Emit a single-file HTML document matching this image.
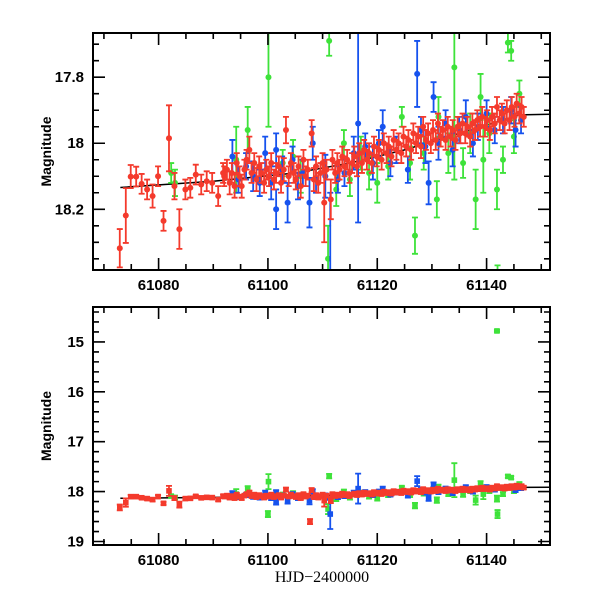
<!DOCTYPE html>
<html><head><meta charset="utf-8"><style>
html,body{margin:0;padding:0;background:#fff;}
svg{display:block;}
.tl{font-family:"Liberation Sans",sans-serif;font-weight:bold;font-size:15px;fill:#000;}
.ax{font-family:"Liberation Sans",sans-serif;font-weight:bold;font-size:14px;fill:#000;}
.xl{font-family:"Liberation Serif",serif;font-size:16px;fill:#000;}
</style></head><body>
<svg id="chart" width="600" height="600" viewBox="0 0 600 600">
<defs>
<clipPath id="clipTop"><rect x="93" y="33" width="457" height="237"/></clipPath>
<clipPath id="clipBot"><rect x="93" y="307" width="457" height="238"/></clipPath>
</defs>
</svg>
<script>
// ---- data ----
const redT=[61072.9,61074.0,61074.9,61075.9,61076.9,61077.9,61078.9,61079.9,61080.9,61081.9,61082.9,61083.8,61084.9,61085.8,61086.8,61087.8,61088.8,61089.8,61090.9,61091.8,
61092.0,61092.5,61093.0,61093.4,61093.9,61094.3,61094.8,61095.2,61095.7,61096.1,61096.6,61097.0,61097.5,61097.9,61098.4,61098.8,61099.3,61099.7,61100.2,61100.6,61101.1,61101.5,61102.0,61102.4,61102.9,61103.3,61103.8,61104.2,61104.7,61105.1,61105.6,61106.0,61106.5,61106.9,61107.3,61107.7,61108.0,61108.4,61108.8,61109.2,61109.6,61110.0,61110.3,61110.7,61111.5,61111.8,61112.3,61112.7,61113.1,61113.6,61114.0,61114.5,61114.9,61115.4,61115.8,61116.3,61116.7,61117.2,61117.6,61118.1,61118.5,61119.0,61119.4,61119.9,61120.3,61120.8,61121.2,61121.7,61122.1,61122.6,61123.0,61123.5,61123.9,61124.4,61124.8,61125.3,61125.7,61126.2,61126.6,61127.1,61127.5,61128.0,61128.4,61128.9,61129.3,61129.8,61130.2,61130.7,61131.1,61131.6,61132.0,61132.5,61132.9,61133.4,61133.8,61134.3,61134.7,61135.2,61135.6,61136.1,61136.5,61137.0,61137.4,61137.9,61138.3,61138.8,61139.2,61139.7,61140.1,61140.6,61141.0,61141.5,61141.9,61142.4,61142.8,61143.3,61143.7,61144.2,61144.6,61145.1,61145.5,61146.0,61146.4,61146.8];
const redM=[18.318,18.219,18.101,18.101,18.123,18.14,18.16,18.10,18.235,17.985,18.13,18.26,18.14,18.135,18.095,18.125,18.115,18.12,18.16,18.09,
18.10,18.08,18.12,18.09,18.13,18.06,18.10,18.13,18.08,18.05,18.02,18.09,18.06,18.11,18.07,18.09,18.12,18.08,18.10,18.06,18.11,18.09,18.07,18.12,18.08,17.96,18.10,18.06,18.09,18.11,18.07,18.13,18.05,18.10,18.08,18.60,17.97,18.11,18.07,18.12,18.09,18.06,18.18,18.08,18.17,18.05,18.09,18.06,18.08,18.04,18.07,18.05,18.09,18.06,18.04,18.07,18.03,18.06,18.02,18.05,18.03,18.06,18.01,18.04,18.02,18.05,18.00,18.03,18.01,18.04,17.99,18.02,18.00,18.03,17.98,18.01,17.99,18.02,17.97,18.00,17.98,18.01,17.95,17.99,17.97,18.00,17.96,17.99,17.94,17.98,17.96,17.99,17.95,17.98,17.96,17.99,17.95,17.97,17.94,17.97,17.95,17.98,17.94,17.96,17.93,17.95,17.92,17.95,17.93,17.96,17.92,17.94,17.89,17.93,17.91,17.94,17.90,17.93,17.89,17.92,17.88,17.91,17.89,17.92];
const redE=[0.058,0.083,0.035,0.03,0.03,0.03,0.035,0.03,0.03,0.1,0.04,0.06,0.03,0.03,0.03,0.03,0.03,0.03,0.03,0.03,
0.03,0.03,0.035,0.03,0.035,0.03,0.03,0.035,0.03,0.03,0.04,0.03,0.03,0.035,0.03,0.03,0.03,0.03,0.03,0.03,0.03,0.03,0.03,0.03,0.035,0.04,0.03,0.03,0.03,0.03,0.03,0.035,0.03,0.03,0.03,0.05,0.04,0.035,0.03,0.03,0.03,0.03,0.12,0.03,0.06,0.03,0.03,0.03,0.03,0.03,0.03,0.03,0.03,0.03,0.03,0.03,0.03,0.03,0.03,0.03,0.03,0.03,0.03,0.03,0.03,0.03,0.03,0.03,0.03,0.03,0.03,0.03,0.03,0.03,0.03,0.03,0.03,0.03,0.03,0.03,0.03,0.035,0.03,0.03,0.03,0.03,0.03,0.03,0.03,0.03,0.03,0.03,0.03,0.03,0.03,0.03,0.03,0.03,0.03,0.03,0.03,0.03,0.03,0.03,0.03,0.03,0.03,0.03,0.03,0.03,0.03,0.03,0.03,0.03,0.03,0.03,0.03,0.03,0.03,0.03,0.03,0.03,0.03,0.03];
const blueT=[61093.5,61094.6,61096.0,61097.3,61098.5,61099.5,61100.6,61101.5,61101.5,61102.6,61103.6,61104.5,61105.5,61106.4,61107.6,61108.2,61108.8,61110.5,61111.4,61112.8,61114.0,61115.7,61116.5,61117.8,61119.2,61120.3,61121.0,61122.4,61123.5,61125.6,61127.3,61128.0,61128.8,61129.4,61130.3,61131.2,61132.5,61133.8,61135.0,61136.2,61137.5,61138.4,61140.0,61141.5,61143.0,61144.5,61145.3,61146.3];
const blueM=[18.04,18.11,18.07,18.10,18.12,18.03,18.12,18.02,18.20,18.08,18.18,18.05,18.13,18.09,18.18,18.00,18.11,18.10,18.45,18.11,18.09,18.03,17.94,18.01,18.06,18.00,17.95,18.06,18.02,18.08,17.79,17.96,18.01,18.12,17.86,18.00,17.94,18.02,17.96,17.92,18.00,17.95,17.91,17.96,17.93,17.90,17.96,17.93];
const blueE=[0.05,0.04,0.04,0.045,0.04,0.05,0.05,0.05,0.06,0.04,0.06,0.04,0.04,0.04,0.075,0.05,0.04,0.065,0.3,0.04,0.04,0.05,0.3,0.04,0.05,0.04,0.05,0.04,0.04,0.04,0.1,0.04,0.05,0.065,0.045,0.05,0.04,0.05,0.04,0.05,0.04,0.04,0.04,0.04,0.04,0.04,0.05,0.04];
const greenT=[61082.3,61083.0,61094.2,61096.3,61100.1,61100.0,61102.7,61104.6,61106.0,61111.2,61111.0,61112.5,61113.9,61115.0,61117.0,61118.5,61120.0,61122.0,61124.5,61126.9,61126.0,61128.5,61130.9,61131.2,61133.0,61134.1,61135.7,61137.0,61138.0,61138.9,61139.4,61140.5,61141.9,61141.9,61142.0,61143.0,61143.9,61144.5,61145.0,61146.0];
const greenM=[18.09,18.12,18.05,17.96,17.80,18.45,18.06,18.04,18.10,17.69,18.35,18.14,18.00,18.11,18.03,18.09,18.12,18.07,17.92,18.28,18.06,18.03,18.17,17.92,18.03,17.77,18.06,17.97,18.17,17.86,18.05,17.97,18.14,14.78,18.45,18.05,17.695,17.72,17.98,17.85];
const greenE=[0.03,0.04,0.1,0.07,0.15,0.06,0.04,0.05,0.05,0.045,0.1,0.05,0.04,0.05,0.05,0.05,0.06,0.04,0.03,0.055,0.05,0.05,0.055,0.06,0.06,0.34,0.045,0.06,0.09,0.07,0.1,0.06,0.06,0.02,0.08,0.04,0.03,0.03,0.05,0.04];
const fitT=[61073,61090,61105,61115,61125,61135,61142,61146,61152];
const fitM=[18.134,18.115,18.09,18.06,18.02,17.97,17.935,17.914,17.912];
const xTicks=[61080,61100,61120,61140];
const topYTicks=[17.8,18,18.2];
const botYTicks=[15,16,17,18,19];

// ---- axes ----
const NS="http://www.w3.org/2000/svg";
const svg=document.getElementById('chart');
const X0=93,X1=550;
const xDom=[61068.0,61151.6];
const xs=t=>X0+(t-xDom[0])/(xDom[1]-xDom[0])*(X1-X0);
const panels=[
 {name:'top',y0:33,y1:270,dom:[17.666,18.384],ticks:topYTicks,minor:0.05,clip:'clipTop',r:3,sq:false},
 {name:'bottom',y0:307,y1:545,dom:[14.3,19.07],ticks:botYTicks,minor:0.2,clip:'clipBot',r:2.8,sq:true}
];
function el(tag,attrs,parent){const e=document.createElementNS(NS,tag);for(const k in attrs)e.setAttribute(k,attrs[k]);(parent||svg).appendChild(e);return e;}
const colors={red:'#f43a2c',blue:'#1652ee',green:'#3ee23a'};

panels.forEach(p=>{
 const ys=m=>p.y0+(m-p.dom[0])/(p.dom[1]-p.dom[0])*(p.y1-p.y0);
 const g=el('g',{});
 
 
 const dg=el('g',{'clip-path':'url(#'+p.clip+')'},g);
 const fl=el('polyline',{points:fitT.map((t,i)=>xs(t)+','+ys(fitM[i])).join(' '),fill:'none',stroke:'#000','stroke-width':1.5},dg);
 
 
 const series=[['green',greenT,greenM,greenE],['blue',blueT,blueM,blueE],['red',redT,redM,redE]];
 series.forEach(([c,T,M,E])=>{
  const sg=el('g',{fill:colors[c],stroke:colors[c]},dg);
  
  
  T.forEach((t,i)=>{
   const x=xs(t),y=ys(M[i]),ya=ys(M[i]-E[i]),yb=ys(M[i]+E[i]);
   el('path',{d:`M${x},${ya}V${yb}M${x-3},${ya}H${x+3}M${x-3},${yb}H${x+3}`,'stroke-width':1.8,fill:'none'},sg);
   let pt;
   if(p.sq) pt=el('rect',{x:x-p.r,y:y-p.r,width:2*p.r,height:2*p.r,stroke:'none'},sg);
   else pt=el('circle',{cx:x,cy:y,r:p.r,stroke:'none'},sg);
   
   
  });
 });
 const fr=el('rect',{x:X0,y:p.y0,width:X1-X0,height:p.y1-p.y0,fill:'none',stroke:'#000','stroke-width':2},g);
 
 
 let d='';
 for(let t=61070;t<=61150;t+=5){const x=xs(t);const L=(t%20===0)?12:6;d+=`M${x},${p.y1}v${-L}M${x},${p.y0}v${L}`;}
 for(let k=Math.ceil(p.dom[0]/p.minor);k*p.minor<=p.dom[1];k++){const m=k*p.minor;const y=ys(m);const maj=p.ticks.some(v=>Math.abs(v-m)<1e-6);const L=maj?12:6;d+=`M${X0},${y}h${L}M${X1},${y}h${-L}`;}
 el('path',{d:d,stroke:'#000','stroke-width':1.6,fill:'none'},g);
 xTicks.forEach(t=>{const tx=el('text',{x:xs(t),y:p.y1+20,'text-anchor':'middle',class:'tl'},g);tx.textContent=t;
  
  });
 p.ticks.forEach(v=>{const tx=el('text',{x:X0-9,y:ys(v)+5,'text-anchor':'end',class:'tl'},g);tx.textContent=v;
  
  });
 const cy=(p.y0+p.y1)/2;
 const yl=el('text',{x:0,y:0,transform:`translate(51,${cy}) rotate(-90)`,'text-anchor':'middle',class:'ax'},g);
 yl.textContent='Magnitude';
 
 
});
const xl=el('text',{x:322,y:582,'text-anchor':'middle',class:'xl'});
xl.textContent='HJD\u22122400000';


</script>
</body></html>
